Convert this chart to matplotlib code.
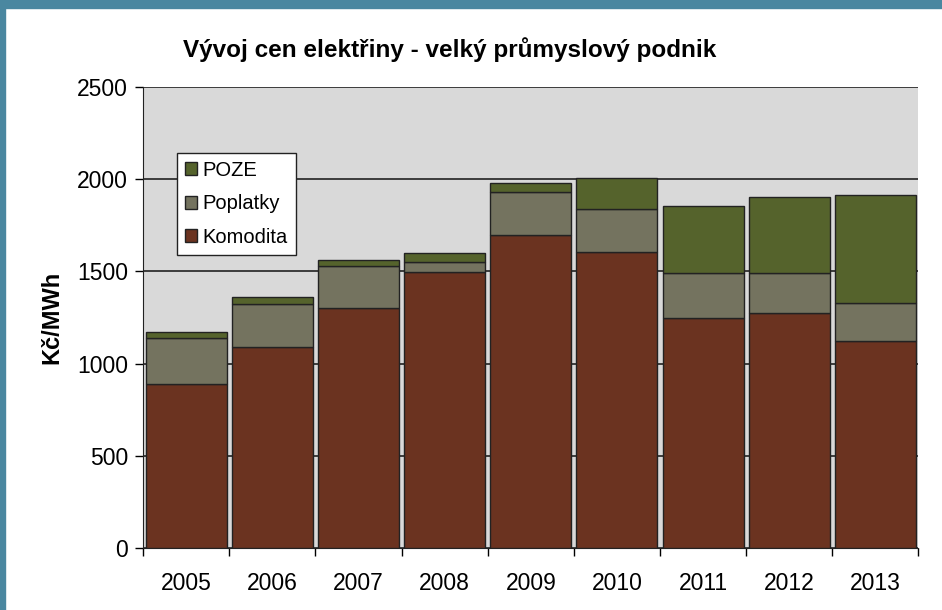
import matplotlib.pyplot as plt
import numpy as np
from matplotlib.patches import Rectangle

plt.rcParams['font.family'] = ['Liberation Sans', 'DejaVu Sans']

years = ['2005', '2006', '2007', '2008', '2009', '2010', '2011', '2012', '2013']
komodita = [890, 1090, 1300, 1495, 1700, 1605, 1250, 1275, 1125]
poplatky = [250, 233, 229, 56, 231, 233, 241, 216, 205]
poze = [30, 38, 33, 49, 48, 168, 364, 412, 585]

fig = plt.figure(figsize=(9.42, 6.10), dpi=100)
ax = fig.add_axes([0.152, 0.1016, 0.823, 0.7558])

# teal frame at top and left
fig.patches.append(Rectangle((0, 0.987), 1, 0.013, transform=fig.transFigure,
                             color='#4a87a0', zorder=0))
fig.patches.append(Rectangle((0, 0), 0.005, 1, transform=fig.transFigure,
                             color='#4a87a0', zorder=0))

x = np.arange(len(years))
k = np.array(komodita)
p = np.array(poplatky)
z = np.array(poze)
w = 0.94
ax.bar(x, k, w, color='#6b3320', edgecolor='#222222', linewidth=1, label='Komodita', zorder=3)
ax.bar(x, p, w, bottom=k, color='#74735f', edgecolor='#222222', linewidth=1, label='Poplatky', zorder=3)
ax.bar(x, z, w, bottom=k + p, color='#55632c', edgecolor='#222222', linewidth=1, label='POZE', zorder=3)

ax.set_facecolor('#d9d9d9')
ax.set_xlim(-0.5, len(years) - 0.5)
ax.set_ylim(0, 2500)
ax.set_yticks(range(0, 2501, 500))
ax.yaxis.grid(True, color='#222222', linewidth=1.2, zorder=1)
ax.set_axisbelow(True)

ax.set_xticks(x)
ax.set_xticklabels(years, fontsize=16.5)
ax.set_xticks(np.arange(-0.5, len(years)), minor=True)
ax.tick_params(axis='x', which='major', length=0, pad=17)
ax.tick_params(axis='x', which='minor', length=6, width=1, direction='out')
ax.tick_params(axis='y', labelsize=16.5, length=6, width=1, pad=5)

for s in ['top', 'right']:
    ax.spines[s].set_visible(False)
ax.spines['left'].set_color('#222222')
ax.spines['bottom'].set_color('#222222')

ax.set_ylabel('Kč/MWh', fontsize=17, fontweight='bold', labelpad=10)
fig.text(0.477, 0.918, 'Vývoj cen elektřiny - velký průmyslový podnik',
         ha='center', va='center', fontsize=17.5, fontweight='bold')

handles, labels = ax.get_legend_handles_labels()
leg = ax.legend(handles[::-1], labels[::-1], loc='upper left', bbox_to_anchor=(0.043, 0.857),
                fontsize=14.5, frameon=True, fancybox=False, handlelength=0.6,
                handleheight=0.6, handletextpad=0.3, labelspacing=0.72, borderpad=0.4,
                borderaxespad=0)
leg.get_frame().set_edgecolor('#222222')
leg.get_frame().set_linewidth(1)
leg.get_frame().set_facecolor('white')
leg.get_frame().set_alpha(1)

fig.savefig('out.png', dpi=100)
